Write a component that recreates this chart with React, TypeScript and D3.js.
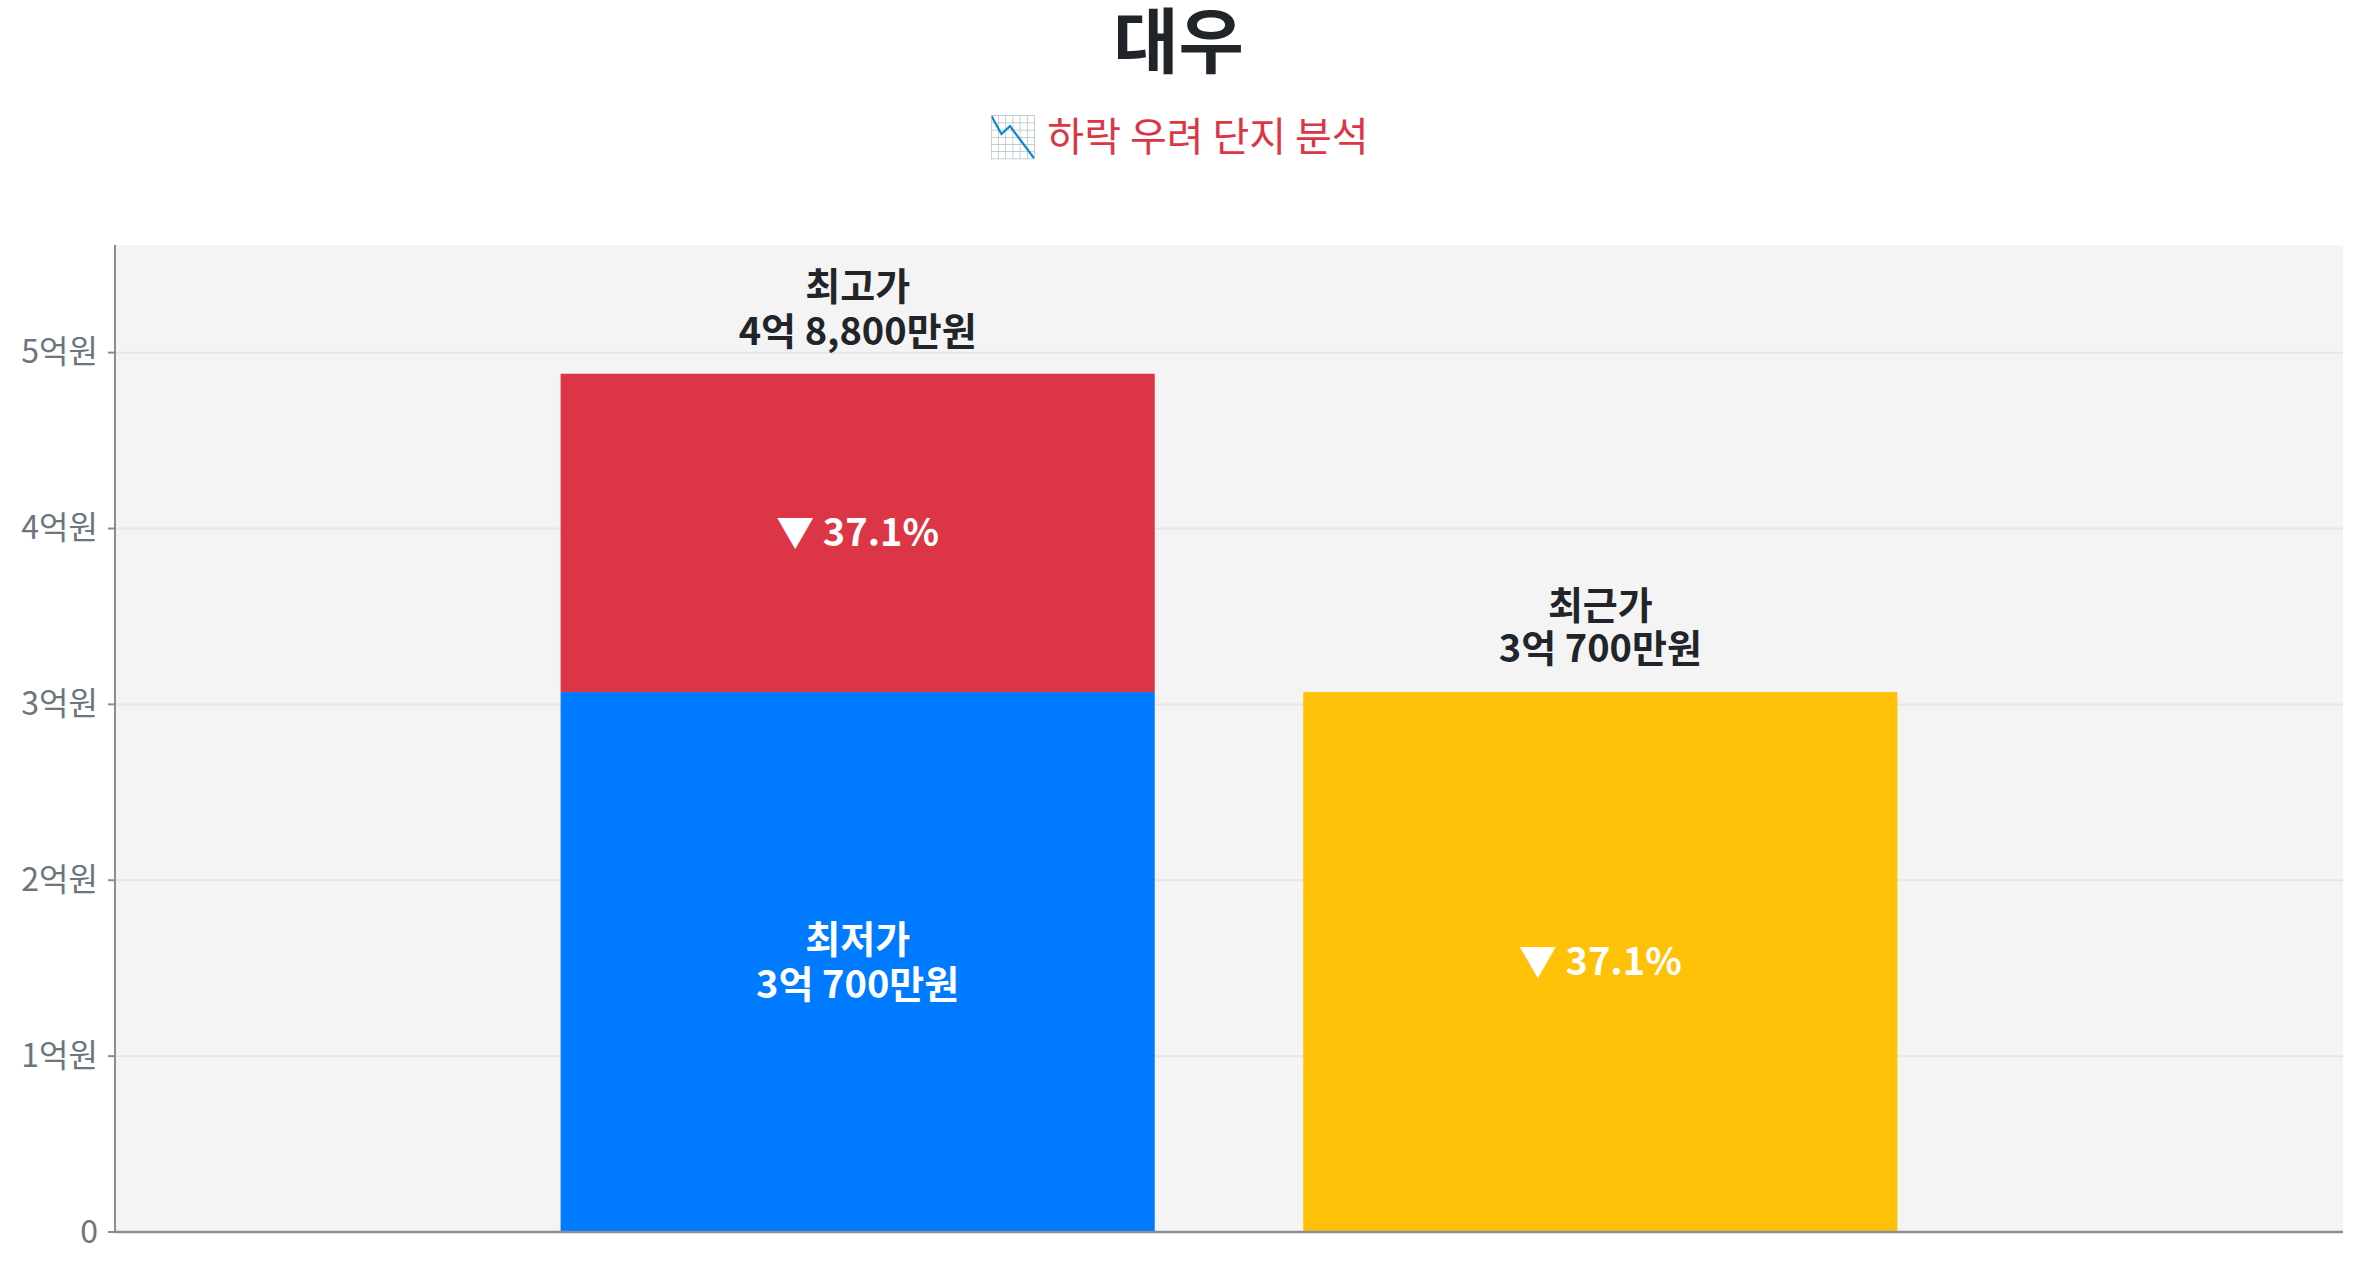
import React from 'react';
import * as d3 from 'd3';

// values in 만원
const categories = ['최고가/최저가', '최근가'];
const lowPrice = 30700;
const highPrice = 48800;
const recentPrice = 30700;
const yTicks = [0, 10000, 20000, 30000, 40000, 50000];

const titleText = '대우';
const subtitleText = '📉 하락 우려 단지 분석';

const W = 2357;
const H = 1268;
const margin = { top: 245, right: 14, bottom: 36, left: 115 };
const FONT = '"Noto Sans CJK KR", "Noto Sans", sans-serif';

const fmtPrice = (v: number) => {
  const eok = Math.floor(v / 10000);
  const man = v % 10000;
  if (eok === 0) return `${d3.format(',')(man)}만원`;
  if (man === 0) return `${eok}억원`;
  return `${eok}억 ${d3.format(',')(man)}만원`;
};
const fmtTick = (v: number) => (v === 0 ? '0' : `${v / 10000}억원`);

export default function App() {
  const innerW = W - margin.left - margin.right;
  const innerH = H - margin.top - margin.bottom;

  const x = d3.scaleBand<string>()
    .domain(categories)
    .range([0, innerW])
    .paddingInner(0.2)
    .paddingOuter(0.6);

  const y = d3.scaleLinear()
    .domain([0, highPrice * 1.15])
    .range([innerH, 0]);

  const bw = x.bandwidth();
  const x0 = x(categories[0]) ?? 0;
  const x1 = x(categories[1]) ?? 0;
  const dropPct = ((highPrice - lowPrice) / highPrice) * 100;
  const recentDrop = ((highPrice - recentPrice) / highPrice) * 100;

  return (
    <svg
      width={W}
      height={H}
      style={{ position: 'absolute', left: 0, top: 0, fontFamily: FONT }}
    >
      <rect width={W} height={H} fill="#ffffff" />
      <text x={W / 2} y={42} dy="0.35em" textAnchor="middle" fontSize={71} fontWeight="bold" fill="#212529">
        {titleText}
      </text>
      <text x={W / 2} y={137} dy="0.35em" textAnchor="middle" fontSize={40} fill="#dc3545">
        {subtitleText}
      </text>

      <g transform={`translate(${margin.left},${margin.top})`}>
        <rect width={innerW} height={innerH} fill="#f4f4f4" />

        {/* grid */}
        {yTicks.filter(t => t > 0).map(t => (
          <line key={t} x1={0} x2={innerW} y1={y(t)} y2={y(t)} stroke="#e6e6e6" strokeWidth={2} />
        ))}

        {/* stacked bar: low + (high - low) */}
        <rect x={x0} y={y(lowPrice)} width={bw} height={innerH - y(lowPrice)} fill="#007bff" />
        <rect x={x0} y={y(highPrice)} width={bw} height={y(lowPrice) - y(highPrice)} fill="#dc3545" />
        <rect x={x1} y={y(recentPrice)} width={bw} height={innerH - y(recentPrice)} fill="#ffc107" />

        {/* labels above bars */}
        <g fontSize={38} fontWeight="bold" fill="#212529" textAnchor="middle">
          <text x={x0 + bw / 2} y={y(highPrice) - 87} dy="0.35em">최고가</text>
          <text x={x0 + bw / 2} y={y(highPrice) - 42} dy="0.35em">{fmtPrice(highPrice)}</text>
          <text x={x1 + bw / 2} y={y(recentPrice) - 86} dy="0.35em">최근가</text>
          <text x={x1 + bw / 2} y={y(recentPrice) - 43} dy="0.35em">{fmtPrice(recentPrice)}</text>
        </g>

        {/* labels inside bars */}
        <g fontSize={38} fontWeight="bold" fill="#ffffff" textAnchor="middle">
          <text x={x0 + bw / 2} y={(y(highPrice) + y(lowPrice)) / 2} dy="0.35em">
            {`▼ ${dropPct.toFixed(1)}%`}
          </text>
          <text x={x0 + bw / 2} y={(y(lowPrice) + innerH) / 2 - 22} dy="0.35em">최저가</text>
          <text x={x0 + bw / 2} y={(y(lowPrice) + innerH) / 2 + 23} dy="0.35em">{fmtPrice(lowPrice)}</text>
          <text x={x1 + bw / 2} y={(y(recentPrice) + innerH) / 2} dy="0.35em">
            {`▼ ${recentDrop.toFixed(1)}%`}
          </text>
        </g>

        {/* y axis */}
        <line x1={0} x2={0} y1={0} y2={innerH} stroke="#868e96" strokeWidth={2} />
        {yTicks.map(t => (
          <g key={t} transform={`translate(0,${y(t)})`}>
            <line x1={-7} x2={0} stroke="#868e96" strokeWidth={2} />
            <text x={-17} dy="0.33em" textAnchor="end" fontSize={32} fill="#6c757d">
              {fmtTick(t)}
            </text>
          </g>
        ))}

        {/* x axis */}
        <line x1={0} x2={innerW} y1={innerH} y2={innerH} stroke="#868e96" strokeWidth={2.5} />
      </g>
    </svg>
  );
}
